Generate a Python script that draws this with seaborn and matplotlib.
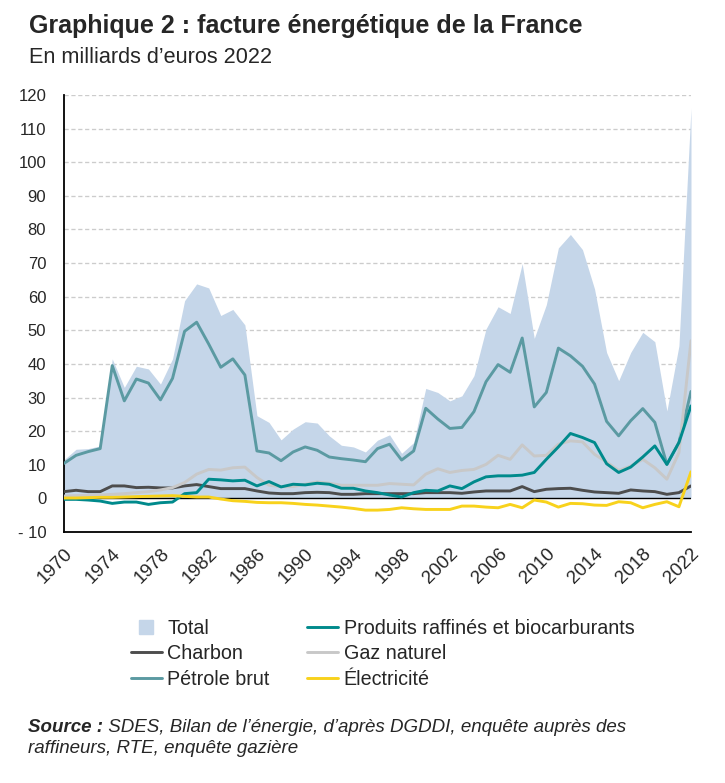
import pandas as pd
import matplotlib
matplotlib.use("Agg")
import matplotlib.pyplot as plt
from matplotlib.lines import Line2D
import seaborn as sns

# Données (milliards d'euros 2022)
annees = list(range(1970, 2023))

total = [11.5, 14.6, 14.8, 15.6, 41.5, 33.0, 39.3, 38.5, 34.0, 41.5,
         58.8, 63.8, 62.6, 54.4, 56.2, 51.6, 24.6, 22.6, 17.4, 20.6,
         22.8, 22.4, 18.6, 15.8, 15.3, 13.8, 17.3, 18.9, 13.4, 16.6,
         32.7, 31.5, 29.0, 30.5, 36.5, 50.4, 57.0, 55.0, 69.8, 47.6,
         57.6, 74.5, 78.5, 74.0, 62.3, 43.4, 35.0, 43.4, 49.4, 46.6,
         26.0, 45.4, 116.0]

charbon = [2.0, 2.4, 2.0, 2.0, 3.7, 3.7, 3.2, 3.3, 3.1, 3.1,
           3.7, 4.1, 3.5, 2.9, 2.9, 2.9, 2.2, 1.6, 1.4, 1.4,
           1.7, 1.8, 1.7, 1.2, 1.2, 1.4, 1.4, 1.4, 1.4, 1.4,
           1.7, 1.7, 1.7, 1.5, 1.9, 2.2, 2.2, 2.2, 3.5, 2.0,
           2.7, 2.9, 3.0, 2.4, 1.9, 1.7, 1.5, 2.5, 2.2, 2.0,
           1.2, 1.7, 3.7]

petrole = [10.4, 12.8, 13.9, 14.8, 39.5, 29.0, 35.5, 34.3, 29.3, 35.7,
           49.7, 52.4, 45.9, 39.0, 41.5, 36.7, 14.1, 13.5, 11.2, 13.8,
           15.3, 14.3, 12.3, 11.8, 11.4, 10.9, 14.8, 16.1, 11.4, 14.1,
           26.8, 23.6, 20.8, 21.1, 25.8, 34.7, 39.8, 37.5, 47.7, 27.2,
           31.5, 44.7, 42.4, 39.3, 34.0, 22.9, 18.6, 23.1, 26.7, 22.6,
           10.1, 16.6, 31.8]

produits = [-0.3, -0.3, -0.5, -0.8, -1.5, -1.1, -1.1, -1.8, -1.3, -1.1,
            1.4, 1.7, 5.7, 5.5, 5.2, 5.4, 3.7, 5.0, 3.4, 4.2,
            4.0, 4.5, 4.2, 3.0, 3.0, 2.2, 1.7, 1.0, 0.4, 1.7,
            2.4, 2.2, 3.7, 2.9, 4.9, 6.4, 6.7, 6.7, 6.9, 7.7,
            11.6, 15.3, 19.3, 18.1, 16.6, 10.3, 7.7, 9.3, 12.3, 15.6,
            10.1, 16.6, 27.5]

gaz = [0.7, 0.8, 0.9, 1.0, 1.2, 1.4, 1.7, 2.0, 2.5, 3.2,
       4.7, 7.2, 8.6, 8.4, 9.1, 9.3, 6.2, 3.9, 3.5, 3.5,
       4.2, 4.9, 4.5, 3.9, 3.9, 3.9, 3.9, 4.4, 4.2, 4.0,
       7.2, 8.8, 7.7, 8.3, 8.6, 10.1, 12.8, 11.6, 15.9, 12.6,
       12.8, 16.1, 17.1, 16.8, 13.1, 10.8, 8.3, 9.6, 11.6, 9.1,
       5.7, 13.6, 46.9]

electricite = [0.1, 0.1, 0.2, 0.3, 0.3, 0.4, 0.5, 0.6, 0.7, 0.8,
               0.6, 0.4, 0.4, -0.2, -0.7, -0.9, -1.2, -1.3, -1.3, -1.5,
               -1.8, -2.0, -2.3, -2.6, -3.0, -3.5, -3.5, -3.3, -2.8, -3.1,
               -3.3, -3.3, -3.3, -2.3, -2.3, -2.6, -2.8, -1.8, -2.8, -0.5,
               -1.1, -2.6, -1.5, -1.6, -2.0, -2.1, -1.0, -1.3, -2.8, -1.8,
               -1.0, -2.5, 7.9]

yticks = list(range(-10, 130, 10))
ytick_labels = ["- 10"] + [str(v) for v in range(0, 130, 10)]

couleurs = {
    "Charbon": "#4d4d4d",
    "Pétrole brut": "#5b9aa2",
    "Gaz naturel": "#c8c8c8",
    "Produits raffinés et biocarburants": "#008a8c",
    "Électricité": "#f8d21c",
}
c_total = "#c5d6e9"

series = {
    "Charbon": charbon,
    "Pétrole brut": petrole,
    "Gaz naturel": gaz,
    "Produits raffinés et biocarburants": produits,
    "Électricité": electricite,
}
df = pd.DataFrame(
    [(a, nom, v) for nom, vals in series.items() for a, v in zip(annees, vals)],
    columns=["Année", "Série", "Valeur"],
)

sns.set_style("white")
plt.rcParams['font.family'] = ['Liberation Sans', 'DejaVu Sans']

fig = plt.figure(figsize=(7.25, 7.83), dpi=100)
ax = fig.add_axes([0.0883, 0.3206, 0.8648, 0.5581])

# grille pointillée horizontale
for y in range(10, 130, 10):
    ax.axhline(y, color="#cccccc", lw=0.95, ls=(0, (3.2, 2.0)), zorder=0)

# aire du total
ax.fill_between(annees, total, color=c_total, lw=0, zorder=1)
ax.axhline(0, color="black", lw=1.0, zorder=2)

sns.lineplot(data=df, x="Année", y="Valeur", hue="Série",
             hue_order=list(series.keys()), palette=couleurs,
             lw=2.1, errorbar=None, legend=False, ax=ax, zorder=3)

ax.set_xlim(1970, 2022)
ax.set_ylim(-10, 120)
ax.set_xlabel("")
ax.set_ylabel("")
for s in ["top", "right"]:
    ax.spines[s].set_visible(False)
for s in ["left", "bottom"]:
    ax.spines[s].set_color("black")
    ax.spines[s].set_linewidth(1.3)

xt = list(range(1970, 2023, 2))
ax.set_xticks(xt)
ax.set_xticklabels([str(a) if (a - 1970) % 4 == 0 else "" for a in xt])
ax.set_yticks(yticks)
ax.set_yticklabels(ytick_labels)
ax.tick_params(axis="x", length=6.5, width=1.3, direction="out", pad=3,
               labelsize=13.5, color="black")
ax.tick_params(axis="y", length=4.3, width=1.3, direction="out", pad=8.5,
               labelsize=12, color="black")
plt.setp(ax.get_xticklabels(), rotation=45, ha="right", va="top",
         rotation_mode="anchor")

# titres
fig.text(0.04, 0.958, "Graphique 2 : facture énergétique de la France",
         fontsize=18, fontweight="bold", va="baseline")
fig.text(0.04, 0.9195, "En milliards d’euros 2022", fontsize=15.6, va="baseline")

# légende
handles = [
    Line2D([], [], ls="none", marker="s", markersize=9.4,
           markerfacecolor=c_total, markeredgecolor=c_total),
    Line2D([], [], color=couleurs["Charbon"], lw=2.1),
    Line2D([], [], color=couleurs["Pétrole brut"], lw=2.1),
    Line2D([], [], color=couleurs["Produits raffinés et biocarburants"], lw=2.1),
    Line2D([], [], color=couleurs["Gaz naturel"], lw=2.1),
    Line2D([], [], color=couleurs["Électricité"], lw=2.1),
]
labels = ["Total", "Charbon", "Pétrole brut",
          "Produits raffinés et biocarburants", "Gaz naturel", "Électricité"]
fig.legend(handles, labels, ncol=2, loc="upper left",
           bbox_to_anchor=(0.1807, 0.21), frameon=False, fontsize=14.2,
           handlelength=1.55, handletextpad=0.3, columnspacing=1.9,
           labelspacing=0.33, borderpad=0, borderaxespad=0)

# source
r = fig.canvas.get_renderer()
t = fig.text(0.039, 0.065, "Source :", fontsize=13.5, fontstyle="italic",
             fontweight="bold", va="baseline")
bb = t.get_window_extent(r)
fig.text(bb.x1 / fig.bbox.width, 0.065,
         " SDES, Bilan de l’énergie, d’après DGDDI, enquête auprès des",
         fontsize=13.5, fontstyle="italic", va="baseline")
fig.text(0.039, 0.038, "raffineurs, RTE, enquête gazière",
         fontsize=13.5, fontstyle="italic", va="baseline")

fig.savefig("out.png", dpi=100)
